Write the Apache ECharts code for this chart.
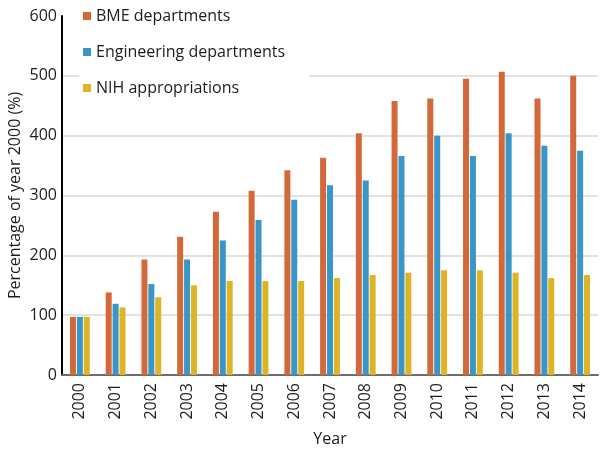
<!DOCTYPE html>
<html><head><meta charset="utf-8">
<script src="https://cdn.jsdelivr.net/npm/echarts@6/dist/echarts.min.js"></script>
<style>html,body{margin:0;padding:0;background:#fff}#c{width:606px;height:451px}</style>
</head><body><div id="c"></div>
<script>
const years = ['2000','2001','2002','2003','2004','2005','2006','2007','2008','2009','2010','2011','2012','2013','2014'];
const bme = [97,138,193,231,273,308,342,363,404,458,462,495,507,462,500];
const eng = [97,119,152,193,225,259,293,317,325,366,400,366,404,383,375];
const nih = [97,113,130,150,157,157,157,162,167,171,175,175,171,162,167];
const seriesNames = ['BME departments','Engineering departments','NIH appropriations'];
const colors = ['#d2693a','#3b96c8','#dcb425'];
const font = '"Open Sans", "Noto Sans", sans-serif';
const txt = '#1f1b1c';
const chart = echarts.init(document.getElementById('c'), null, {renderer:'canvas'});
chart.setOption({
  animation:false,
  textStyle:{fontFamily:font},
  legend:{
    orient:'vertical', left:79, top:4, itemWidth:8, itemHeight:8, itemGap:20,
    backgroundColor:'#fff', padding:[4,24,4,4], z:10,
    icon:'rect',
    textStyle:{fontSize:16, color:txt, fontFamily:font},
    data:seriesNames
  },
  grid:{left:62, right:8, top:16, bottom:76, containLabel:false, outerBoundsMode:'none'},
  xAxis:{
    type:'category', data:years,
    name:'Year', nameLocation:'middle', nameGap:56, nameMoveOverlap:false,
    nameTextStyle:{fontSize:16, color:txt, fontFamily:font},
    axisLine:{lineStyle:{color:'#6d6d6d', width:2}},
    axisTick:{show:false},
    axisLabel:{rotate:90, fontSize:16, color:txt, margin:8, fontFamily:font}
  },
  yAxis:{
    type:'value', min:0, max:600, interval:100,
    name:'Percentage of year 2000 (%)', nameLocation:'middle', nameGap:39, nameMoveOverlap:false,
    nameTextStyle:{fontSize:16, color:txt, fontFamily:font},
    axisLine:{show:true, lineStyle:{color:'#000', width:2}},
    axisTick:{show:false},
    axisLabel:{fontSize:16, color:txt, margin:5, fontFamily:font},
    splitLine:{show:true, lineStyle:{color:['transparent','#d9d9d9','#d9d9d9','#d9d9d9','#d9d9d9','#d9d9d9','transparent'], width:1.5}}
  },
  series:[
    {name:seriesNames[0], type:'bar', data:bme, barWidth:6, barGap:'15%', itemStyle:{color:colors[0]}},
    {name:seriesNames[1], type:'bar', data:eng, barWidth:6, barGap:'15%', itemStyle:{color:colors[1]}},
    {name:seriesNames[2], type:'bar', data:nih, barWidth:6, barGap:'15%', itemStyle:{color:colors[2]}}
  ]
});
</script></body></html>
